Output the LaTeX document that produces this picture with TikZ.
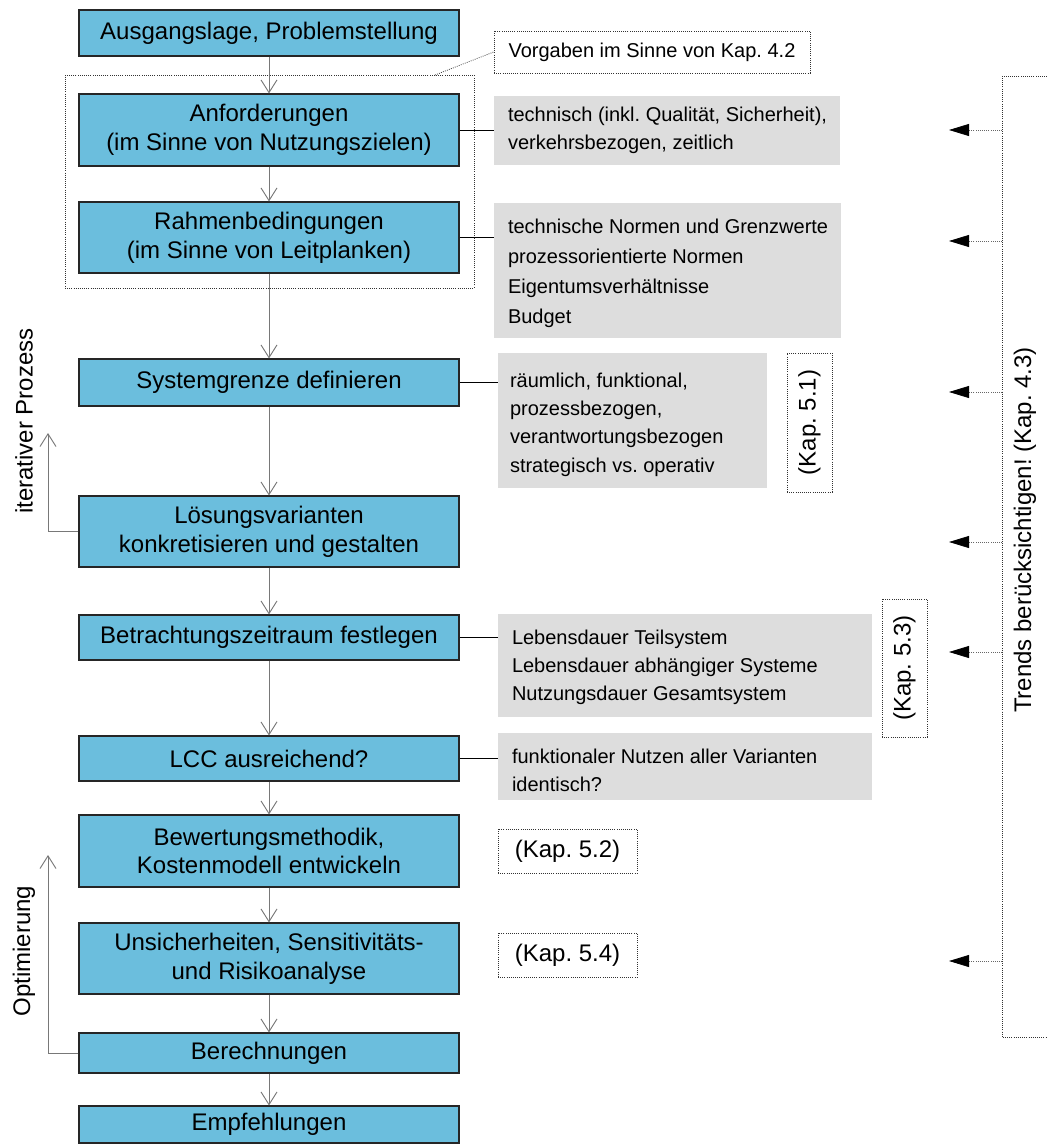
\documentclass[tikz,border=0pt]{standalone}
\usepackage{fontspec}
\setmainfont{Liberation Sans}
\frenchspacing
\usetikzlibrary{arrows.meta}
\definecolor{procblue}{RGB}{107,190,221}
\definecolor{notegray}{RGB}{221,221,221}
\definecolor{flowgray}{RGB}{120,120,120}
\begin{document}
\begin{tikzpicture}[x=0.75pt,y=-0.75pt,
  wh/.style 2 args={minimum width=#1*0.75pt,minimum height=#2*0.75pt},
  proc/.style={draw=black!85,line width=0.8pt,fill=procblue,inner sep=0pt,align=center,
    font=\fontsize{18}{21.5}\selectfont},
  notebox/.style={fill=notegray,draw=none,inner sep=0pt},
  notetext/.style={anchor=west,align=left,inner sep=0pt,font=\fontsize{15}{21}\selectfont},
  dotline/.style={draw=black!80,densely dotted,line width=0.6pt},
  refbox/.style={dotline,inner sep=0pt,align=center,font=\fontsize{18}{21}\selectfont},
  reftext/.style={inner sep=0pt,font=\fontsize{18}{21}\selectfont},
  flow/.style={draw=flowgray,line width=0.7pt,-{Straight Barb[length=9.5pt,width=12pt,line width=0.7pt]}},
  link/.style={draw=black,line width=0.7pt},
  trend/.style={draw=black!60,densely dotted,line width=0.6pt,
    -{Triangle[length=15pt,width=9pt,fill=black,color=black]}},
  side/.style={rotate=90,inner sep=0pt,font=\fontsize{18}{21}\selectfont}]
\useasboundingbox (0,0) rectangle (1046,1144);

% main process chain
\node[proc,wh={380}{46}] (a1) at (269,33) {Ausgangslage, Problemstellung};
\node[proc,wh={380}{72}] (a2) at (269,130) {Anforderungen\\(im Sinne von Nutzungszielen)};
\node[proc,wh={380}{71}] (a3) at (269,237.5) {Rahmenbedingungen\\(im Sinne von Leitplanken)};
\node[proc,wh={380}{47}] (a4) at (269,382.5) {Systemgrenze definieren};
\node[proc,wh={380}{71}] (a5) at (269,531.5) {Lösungsvarianten\\konkretisieren und gestalten};
\node[proc,wh={380}{45}] (a6) at (269,637.5) {Betrachtungszeitraum festlegen};
\node[proc,wh={380}{45}] (a7) at (269,758.5) {LCC ausreichend?};
\node[proc,wh={380}{72}] (a8) at (269,851) {Bewertungsmethodik,\\Kostenmodell entwickeln};
\node[proc,wh={380}{71}] (a9) at (269,958.5) {Unsicherheiten, Sensitivitäts-\\und Risikoanalyse};
\node[proc,wh={380}{40}] (a10) at (269,1053) {Berechnungen};
\node[proc,wh={380}{37}] (a11) at (269,1124.5) {Empfehlungen};

\foreach \i/\j in {a1/a2,a2/a3,a3/a4,a4/a5,a5/a6,a6/a7,a7/a8,a8/a9,a9/a10,a10/a11}
  \draw[flow] (\i) -- (\j);

% group of requirements and constraints
\node[dotline,inner sep=0pt,wh={409}{213}] (grp) at (269.5,181.5) {};
\node[refbox,wh={316}{42},font=\fontsize{15}{18}\selectfont] (vorg) at (652,52) {Vorgaben im Sinne von Kap. 4.2};
\coordinate (grpc) at (435,75);
\draw[dotline] (grpc) -- (vorg.west);

% explanatory notes
\node[notebox,wh={346}{69}] (g1) at (667,130.5) {};
\node[notetext] (g1t) at ([xshift=10.5pt]g1.west) {technisch (inkl. Qualität, Sicherheit),\\verkehrsbezogen, zeitlich};
\node[notebox,wh={347}{135}] (g2) at (667.5,270.5) {};
\node[notetext,font=\fontsize{15}{22.5}\selectfont] (g2t) at ([xshift=10.5pt,yshift=-2pt]g2.west) {technische Normen und Grenzwerte\\prozessorientierte Normen\\Eigentumsverhältnisse\\Budget};
\node[notebox,wh={269}{135}] (g3) at (632.5,420.5) {};
\node[notetext,font=\fontsize{15}{21.3}\selectfont] (g3t) at ([xshift=9pt,yshift=-3pt]g3.west) {räumlich, funktional,\\prozessbezogen,\\verantwortungsbezogen\\strategisch vs. operativ};
\node[notebox,wh={374}{103}] (g4) at (685,665.5) {};
\node[notetext] (g4t) at ([xshift=10.5pt,yshift=-1.5pt]g4.west) {Lebensdauer Teilsystem\\Lebensdauer abhängiger Systeme\\Nutzungsdauer Gesamtsystem};
\node[notebox,wh={374}{67}] (g5) at (685,766.5) {};
\node[notetext] (g5t) at ([xshift=10.5pt,yshift=-3pt]g5.west) {funktionaler Nutzen aller Varianten\\identisch?};

\draw[link] (a2.east) -- (a2.east -| g1.west);
\draw[link] (a3.east) -- (a3.east -| g2.west);
\draw[link] (a4.east) -- (a4.east -| g3.west);
\draw[link] (a6.east) -- (a6.east -| g4.west);
\draw[link] (a7.east) -- (a7.east -| g5.west);

% chapter references
\node[refbox,wh={45}{139}] (k51) at (809.5,422.5) {};
\node[reftext,rotate=90] (k51t) at (k51.center) {(Kap. 5.1)};
\node[refbox,wh={45}{138}] (k53) at (904.5,668) {};
\node[reftext,rotate=90] (k53t) at (k53.center) {(Kap. 5.3)};
\node[refbox,wh={139}{44}] (k52) at (567.5,851) {(Kap. 5.2)};
\node[refbox,wh={139}{44}] (k54) at (567.5,955) {(Kap. 5.4)};

% feedback loops
\coordinate (itop) at (48,433);
\draw[flow] (a5.west) -| (itop);
\node[side] (iter) at (24,421) {iterativer Prozess};
\coordinate (otop) at (48,855);
\draw[flow] (a10.west) -| (otop);
\node[side] (opti) at (24,951) {Optimierung};

% trends bracket
\coordinate (btop) at (1047,76);
\coordinate (bbot) at (1047,1037);
\draw[dotline] (btop) -- (1002,76) -- (1002,1037) -- (bbot);
\node[side] (trends) at (1025,530) {Trends berücksichtigen! (Kap. 4.3)};
\foreach \n/\y in {1/130,2/241,3/392,4/542,5/652,6/961}{
  \coordinate (tb\n) at (1002,\y);
  \coordinate (tt\n) at (949,\y);
  \draw[trend] (tb\n) -- (tt\n);
}
\end{tikzpicture}
\end{document}
